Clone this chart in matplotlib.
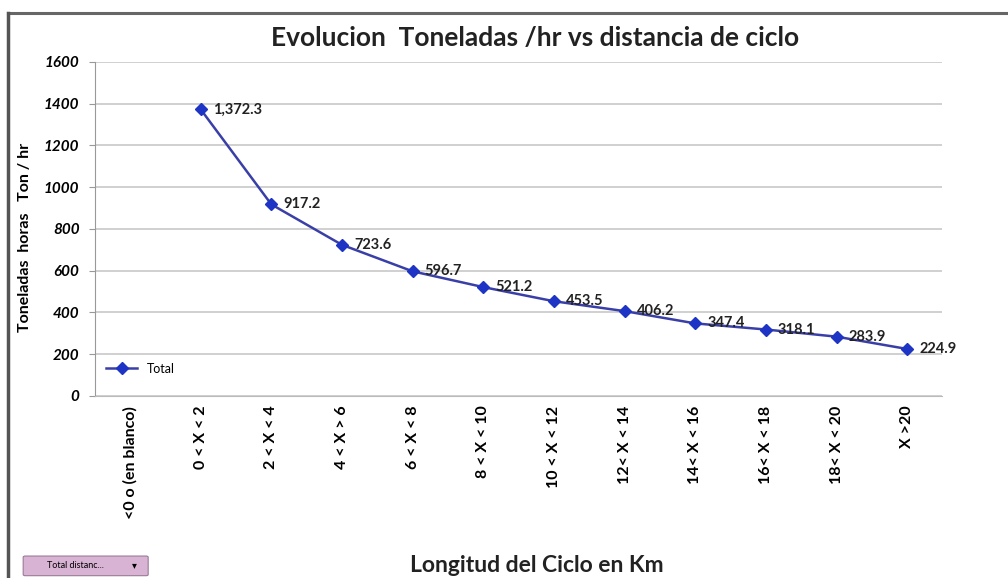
import matplotlib.pyplot as plt
from matplotlib.patches import FancyBboxPatch
import numpy as np

plt.rcParams['font.family'] = ['Lato', 'DejaVu Sans']

categorias = ['<0 o (en blanco)', '0 < X < 2', '2 < X < 4', '4 < X > 6', '6 < X < 8',
              '8 < X < 10', '10 < X < 12', '12< X < 14', '14< X < 16', '16< X < 18',
              '18< X < 20', 'X >20']
toneladas = [np.nan, 1372.3, 917.2, 723.6, 596.7, 521.2, 453.5, 406.2, 347.4, 318.1, 283.9, 224.9]
yticks = [0, 200, 400, 600, 800, 1000, 1200, 1400, 1600]

fig = plt.figure(figsize=(10.08, 5.78), dpi=100)
ax = fig.add_axes([0.094, 0.315, 0.841, 0.578])

x = np.arange(len(categorias))
ax.plot(x, toneladas, color='#3a3fa8', lw=1.8, marker='D', ms=6.5,
        markerfacecolor='#1d34c4', markeredgecolor='#1d34c4', label='Total', zorder=3)

for xi, v in zip(x, toneladas):
    if np.isnan(v):
        continue
    ax.text(xi + 0.17, v, f'{v:,.1f}', fontsize=10.5, va='center', ha='left',
            color='#222222', fontweight='bold')

ax.set_xlim(-0.5, len(categorias) - 0.5)
ax.set_ylim(0, 1600)
ax.set_yticks(yticks)
ax.set_yticklabels([str(t) for t in yticks], fontsize=11, style='italic', fontweight='bold')
ax.set_xticks(x)
ax.set_xticklabels(categorias, rotation=90, fontsize=11.5, va='top', fontweight='bold')
ax.tick_params(axis='x', length=0, pad=7)
ax.tick_params(axis='y', length=4, color='#999999', pad=7)
ax.yaxis.grid(True, color='#c8c8c8', lw=1.2)
ax.set_axisbelow(True)
for side in ['top', 'right']:
    ax.spines[side].set_visible(False)
ax.spines['left'].set_color('#999999')
ax.spines['bottom'].set_color('#bbbbbb')

fig.text(0.531, 0.934, 'Evolucion  Toneladas /hr vs distancia de ciclo', fontsize=19,
         fontweight='bold', color='#222222', ha='center', va='center')
fig.text(0.025, 0.59, 'Toneladas  horas   Ton / hr', rotation=90, fontsize=11.5,
         fontweight='bold', ha='center', va='center')
fig.text(0.533, 0.022, 'Longitud del Ciclo en Km', fontsize=16.5, fontweight='bold',
         ha='center', va='center', color='#222222')

ax.legend(loc='lower left', bbox_to_anchor=(0.0, 0.03), frameon=False, fontsize=9,
          handlelength=2.5)

# marco exterior del grafico
fig.add_artist(plt.Line2D([0.008, 1.0], [0.978, 0.978], color='#666666', lw=2.2,
                          transform=fig.transFigure))
fig.add_artist(plt.Line2D([0.008, 0.008], [0.0, 0.978], color='#555555', lw=2.5,
                          transform=fig.transFigure))
# boton de campo de la tabla dinamica
fig.patches.append(FancyBboxPatch((0.025, 0.006), 0.12, 0.03, boxstyle='round,pad=0.002',
                                  transform=fig.transFigure, facecolor='#d9b3d3',
                                  edgecolor='#9a7a96', lw=0.8))
fig.text(0.075, 0.021, 'Total distanc...', fontsize=6.5, ha='center', va='center')
fig.text(0.133, 0.021, '\u25be', fontsize=7, ha='center', va='center')

fig.savefig('out.png', dpi=100)
